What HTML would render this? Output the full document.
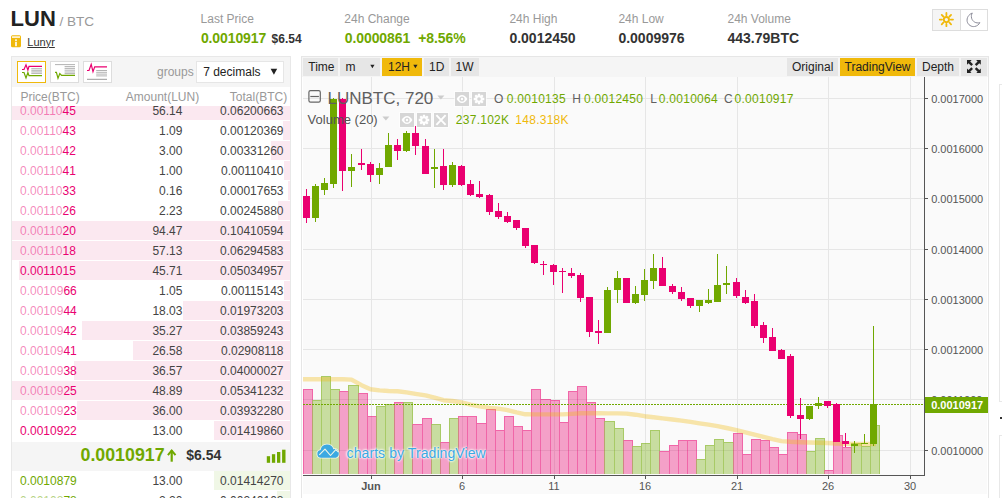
<!DOCTYPE html>
<html><head><meta charset="utf-8"><title>LUN/BTC</title>
<style>
html,body{margin:0;padding:0;background:#fff;}
body{width:1002px;height:498px;overflow:hidden;position:relative;font-family:"Liberation Sans",sans-serif;}
.t{position:absolute;white-space:nowrap;}
.abs{position:absolute;}
.btn{position:absolute;top:58px;height:18px;background:#e6e6e6;}
.ob{position:absolute;left:12px;width:278px;height:19px;}
.ob i{position:absolute;top:0;right:0;height:19px;font-style:normal;}
.ob span{position:absolute;top:4px;font-size:12px;line-height:12px;white-space:nowrap;}
</style></head><body>

<span class="t" style="left:10.60px;top:8.30px;font-size:22px;line-height:22px;color:#222;font-weight:bold;">LUN</span>
<span class="t" style="left:59.40px;top:15.40px;font-size:13.6px;line-height:13.6px;color:#999;font-weight:normal;">/ BTC</span>
<svg class="abs" style="left:10px;top:35px" width="12" height="13" viewBox="0 0 12 13"><rect x="1" y="0.3" width="10" height="12" rx="1.5" fill="#f0b90b"/><rect x="2" y="1.2" width="8" height="1.8" fill="#fdf1cf"/><rect x="5.2" y="4.3" width="1.6" height="1.7" fill="#fff"/><rect x="5.2" y="6.8" width="1.6" height="4.4" fill="#fff"/></svg>
<span class="t" style="left:27.30px;top:36.80px;font-size:11px;line-height:11px;color:#333;font-weight:normal;text-decoration:underline;">Lunyr</span>
<span class="t" style="left:200.60px;top:12.90px;font-size:12px;line-height:12px;color:#999;font-weight:normal;">Last Price</span>
<span class="t" style="left:344.30px;top:12.90px;font-size:12px;line-height:12px;color:#999;font-weight:normal;">24h Change</span>
<span class="t" style="left:509.40px;top:12.90px;font-size:12px;line-height:12px;color:#999;font-weight:normal;">24h High</span>
<span class="t" style="left:618.40px;top:12.90px;font-size:12px;line-height:12px;color:#999;font-weight:normal;">24h Low</span>
<span class="t" style="left:727.50px;top:12.90px;font-size:12px;line-height:12px;color:#999;font-weight:normal;">24h Volume</span>
<span class="t" style="left:200.90px;top:30.90px;font-size:14px;line-height:14px;color:#70a800;font-weight:bold;letter-spacing:-0.1px;">0.0010917</span>
<span class="t" style="left:271.60px;top:32.90px;font-size:12px;line-height:12px;color:#333;font-weight:bold;">$6.54</span>
<span class="t" style="left:344.80px;top:30.90px;font-size:14px;line-height:14px;color:#70a800;font-weight:bold;letter-spacing:-0.1px;">0.0000861</span>
<span class="t" style="left:418.30px;top:30.90px;font-size:14px;line-height:14px;color:#70a800;font-weight:bold;letter-spacing:-0.1px;">+8.56%</span>
<span class="t" style="left:509.40px;top:30.90px;font-size:14px;line-height:14px;color:#333;font-weight:bold;">0.0012450</span>
<span class="t" style="left:618.40px;top:30.90px;font-size:14px;line-height:14px;color:#333;font-weight:bold;">0.0009976</span>
<span class="t" style="left:727.50px;top:30.90px;font-size:14px;line-height:14px;color:#333;font-weight:bold;">443.79BTC</span>
<div class="abs" style="left:932px;top:9px;width:54px;height:20px;border:1px solid #ddd;background:#fff;"><div class="abs" style="left:0;top:0;width:27px;height:20px;background:#f5f5f5;border-right:1px solid #ddd;"></div></div>
<svg class="abs" style="left:932px;top:9px" width="56" height="22" viewBox="932 9 56 22"><g stroke="#f0b90b" fill="none"><circle cx="946.4" cy="19.6" r="2.6" stroke-width="1.9"/><path d="M950.80 19.60L953.00 19.60M949.51 22.71L951.07 24.27M946.40 24.00L946.40 26.20M943.29 22.71L941.73 24.27M942.00 19.60L939.80 19.60M943.29 16.49L941.73 14.93M946.40 15.20L946.40 13.00M949.51 16.49L951.07 14.93" stroke-width="1.8" stroke-linecap="round"/></g><path d="M972.3 13 C968.5 14.5 966.5 18 967.2 21.5 C968 25 971.5 27 974.5 26.5 C977 26.2 979 24.5 979.8 22.6 C976 23.8 972.5 21.5 971.6 18.2 C971.1 16.2 971.4 14.3 972.3 13Z" fill="#fff" stroke="#8c8c99" stroke-width="1"/></svg>
<div class="abs" style="left:11px;top:56px;width:278px;height:460px;border:1px solid #e8e8e8;background:#fff;"></div>
<div class="abs" style="left:12px;top:57px;width:278px;height:30px;background:#f5f5f5;"></div>
<div class="abs" style="left:17px;top:61px;width:27px;height:20px;background:#fff;border:1px solid #f0b90b;"></div>
<div class="abs" style="left:50px;top:61px;width:27px;height:20px;background:#fff;border:1px solid #ddd;"></div>
<div class="abs" style="left:83px;top:61px;width:27px;height:20px;background:#fff;border:1px solid #ddd;"></div>
<svg class="abs" style="left:17px;top:61px" width="29" height="22" viewBox="0 0 29 22"><path d="M5 8.5 L7 8.5 L9 3.8 L10.9 9 L12 5.3 L25 5.3" fill="none" stroke="#ea0070" stroke-width="1.2"/><path d="M5 11.5 L7 11.5 L9 17 L10.9 11.5 L12 14.6 L25 14.6" fill="none" stroke="#70a800" stroke-width="1.2"/><path d="M14.3 7.7H25M14.3 9.3H25M14.3 10.9H25M14.3 12.4H25" stroke="#aaa" stroke-width="0.9"/></svg>
<svg class="abs" style="left:50px;top:61px" width="29" height="22" viewBox="0 0 29 22"><path d="M5 3.6H25M14.6 5.6H25M14.6 7.4H25M14.6 9.2H25M14.6 11H25M14.6 12.6H25" stroke="#aaa" stroke-width="0.9"/><path d="M5 11.3 L6.4 11.3 L8 17.3 L9.8 12.5 L11.6 14.4 L25 14.4" fill="none" stroke="#70a800" stroke-width="1.2"/></svg>
<svg class="abs" style="left:83px;top:61px" width="29" height="22" viewBox="0 0 29 22"><path d="M4 9.5 L6 9.5 L8.2 3.4 L10 10.6 L11.7 5.9 L24 5.9" fill="none" stroke="#ea0070" stroke-width="1.2"/><path d="M13.2 9.5H24M13.2 11.3H24M13.2 13.1H24M13.2 14.9H24" stroke="#aaa" stroke-width="0.9"/><path d="M4 18.3H24" stroke="#999" stroke-width="1"/></svg>
<span class="t" style="left:157.00px;top:66.40px;font-size:12px;line-height:12px;color:#999;font-weight:normal;">groups</span>
<div class="abs" style="left:196px;top:61px;width:86px;height:20px;background:#fff;border:1px solid #e6e6e6;"></div>
<span class="t" style="left:203.20px;top:66.40px;font-size:12px;line-height:12px;color:#222;font-weight:normal;">7 decimals</span>
<svg class="abs" style="left:270px;top:68px" width="8" height="8" viewBox="0 0 8 8"><path d="M0.6 0.8h6.6L3.9 6.8z" fill="#222"/></svg>
<span class="t" style="left:20.40px;top:90.80px;font-size:12px;line-height:12px;color:#999;font-weight:normal;">Price(BTC)</span>
<span class="t" style="right:802.80px;top:90.80px;font-size:12px;line-height:12px;color:#999;font-weight:normal;">Amount(LUN)</span>
<span class="t" style="right:714.80px;top:90.80px;font-size:12px;line-height:12px;color:#999;font-weight:normal;">Total(BTC)</span>
<div class="abs" style="left:0;top:106px;width:300px;height:335px;overflow:hidden;">
<div class="ob" style="top:-5px"><i style="width:278.0px;background:#fbe8f0"></i><span style="left:8px;color:#ea0070"><b style="font-weight:normal;color:rgba(234,0,112,0.48)">0.00110</b>45</span><span style="right:107.6px;color:#444">56.14</span><span style="right:6.5px;color:#444">0.06200663</span></div>
<div class="ob" style="top:15px"><i style="width:7.4px;background:#fbe8f0"></i><span style="left:8px;color:#ea0070"><b style="font-weight:normal;color:rgba(234,0,112,0.48)">0.00110</b>43</span><span style="right:107.6px;color:#444">1.09</span><span style="right:6.5px;color:#444">0.00120369</span></div>
<div class="ob" style="top:35px"><i style="width:18.7px;background:#fbe8f0"></i><span style="left:8px;color:#ea0070"><b style="font-weight:normal;color:rgba(234,0,112,0.48)">0.00110</b>42</span><span style="right:107.6px;color:#444">3.00</span><span style="right:6.5px;color:#444">0.00331260</span></div>
<div class="ob" style="top:55px"><i style="width:5.7px;background:#fbe8f0"></i><span style="left:8px;color:#ea0070"><b style="font-weight:normal;color:rgba(234,0,112,0.48)">0.00110</b>41</span><span style="right:107.6px;color:#444">1.00</span><span style="right:6.5px;color:#444">0.00110410</span></div>
<div class="ob" style="top:75px"><i style="width:1.6px;background:#fbe8f0"></i><span style="left:8px;color:#ea0070"><b style="font-weight:normal;color:rgba(234,0,112,0.48)">0.00110</b>33</span><span style="right:107.6px;color:#444">0.16</span><span style="right:6.5px;color:#444">0.00017653</span></div>
<div class="ob" style="top:95px"><i style="width:12.5px;background:#fbe8f0"></i><span style="left:8px;color:#ea0070"><b style="font-weight:normal;color:rgba(234,0,112,0.48)">0.00110</b>26</span><span style="right:107.6px;color:#444">2.23</span><span style="right:6.5px;color:#444">0.00245880</span></div>
<div class="ob" style="top:115px"><i style="width:278.0px;background:#fbe8f0"></i><span style="left:8px;color:#ea0070"><b style="font-weight:normal;color:rgba(234,0,112,0.48)">0.00110</b>20</span><span style="right:107.6px;color:#444">94.47</span><span style="right:6.5px;color:#444">0.10410594</span></div>
<div class="ob" style="top:135px"><i style="width:278.0px;background:#fbe8f0"></i><span style="left:8px;color:#ea0070"><b style="font-weight:normal;color:rgba(234,0,112,0.48)">0.00110</b>18</span><span style="right:107.6px;color:#444">57.13</span><span style="right:6.5px;color:#444">0.06294583</span></div>
<div class="ob" style="top:155px"><i style="width:271.2px;background:#fbe8f0"></i><span style="left:8px;color:#ea0070">0.0011015</span><span style="right:107.6px;color:#444">45.71</span><span style="right:6.5px;color:#444">0.05034957</span></div>
<div class="ob" style="top:175px"><i style="width:6.0px;background:#fbe8f0"></i><span style="left:8px;color:#ea0070"><b style="font-weight:normal;color:rgba(234,0,112,0.48)">0.00109</b>66</span><span style="right:107.6px;color:#444">1.05</span><span style="right:6.5px;color:#444">0.00115143</span></div>
<div class="ob" style="top:195px"><i style="width:106.7px;background:#fbe8f0"></i><span style="left:8px;color:#ea0070"><b style="font-weight:normal;color:rgba(234,0,112,0.48)">0.00109</b>44</span><span style="right:107.6px;color:#444">18.03</span><span style="right:6.5px;color:#444">0.01973203</span></div>
<div class="ob" style="top:215px"><i style="width:208.1px;background:#fbe8f0"></i><span style="left:8px;color:#ea0070"><b style="font-weight:normal;color:rgba(234,0,112,0.48)">0.00109</b>42</span><span style="right:107.6px;color:#444">35.27</span><span style="right:6.5px;color:#444">0.03859243</span></div>
<div class="ob" style="top:235px"><i style="width:156.9px;background:#fbe8f0"></i><span style="left:8px;color:#ea0070"><b style="font-weight:normal;color:rgba(234,0,112,0.48)">0.00109</b>41</span><span style="right:107.6px;color:#444">26.58</span><span style="right:6.5px;color:#444">0.02908118</span></div>
<div class="ob" style="top:255px"><i style="width:215.6px;background:#fbe8f0"></i><span style="left:8px;color:#ea0070"><b style="font-weight:normal;color:rgba(234,0,112,0.48)">0.00109</b>38</span><span style="right:107.6px;color:#444">36.57</span><span style="right:6.5px;color:#444">0.04000027</span></div>
<div class="ob" style="top:275px"><i style="width:278.0px;background:#fbe8f0"></i><span style="left:8px;color:#ea0070"><b style="font-weight:normal;color:rgba(234,0,112,0.48)">0.00109</b>25</span><span style="right:107.6px;color:#444">48.89</span><span style="right:6.5px;color:#444">0.05341232</span></div>
<div class="ob" style="top:295px"><i style="width:213.2px;background:#fbe8f0"></i><span style="left:8px;color:#ea0070"><b style="font-weight:normal;color:rgba(234,0,112,0.48)">0.00109</b>23</span><span style="right:107.6px;color:#444">36.00</span><span style="right:6.5px;color:#444">0.03932280</span></div>
<div class="ob" style="top:315px"><i style="width:75.8px;background:#fbe8f0"></i><span style="left:8px;color:#ea0070">0.0010922</span><span style="right:107.6px;color:#444">13.00</span><span style="right:6.5px;color:#444">0.01419860</span></div>
</div>
<div class="abs" style="left:12px;top:441.6px;width:278px;height:29px;background:#f5f5f5;"></div>
<span class="t" style="left:80.50px;top:446.90px;font-size:17.8px;line-height:17.8px;color:#70a800;font-weight:bold;">0.0010917</span>
<svg class="abs" style="left:166px;top:448px" width="12" height="16" viewBox="166 448 12 16"><path d="M171.7 450.2V461.7" stroke="#70a800" stroke-width="2.2" fill="none"/><path d="M167.9 455.2L171.7 450.6L175.5 455.2" stroke="#70a800" stroke-width="2" fill="none" stroke-linejoin="miter"/></svg>
<span class="t" style="left:186.20px;top:448.30px;font-size:14px;line-height:14px;color:#333;font-weight:bold;">$6.54</span>
<svg class="abs" style="left:266px;top:449px" width="21" height="15" viewBox="266 449 21 15"><g fill="#70a800"><rect x="266.8" y="456.2" width="3.3" height="6.6"/><rect x="271.9" y="454.2" width="3.3" height="8.6"/><rect x="277" y="452" width="3.3" height="10.8"/><rect x="282.1" y="449.7" width="3.4" height="13.1"/></g></svg>
<div class="ob" style="top:470.6px"><i style="width:75.8px;background:#f0f7e6"></i><span style="left:8px;color:#70a800">0.0010879</span><span style="right:107.6px;color:#444">13.00</span><span style="right:6.5px;color:#444">0.01414270</span></div>
<div class="ob" style="top:490.6px"><i style="width:12.8px;background:#f0f7e6"></i><span style="left:8px;color:#70a800"><b style="font-weight:normal;color:rgba(112,168,0,0.5)">0.00108</b>78</span><span style="right:107.6px;color:#444">2.20</span><span style="right:6.5px;color:#444">0.00240108</span></div>
<div class="abs" style="left:301px;top:56px;width:686px;height:460px;border:1px solid #e6e6e6;background:#fff;"></div>
<div class="abs" style="left:303px;top:77px;width:684px;height:417px;background:#fafafa;"></div>
<div class="abs" style="left:302px;top:57px;width:686px;height:20px;background:#f5f5f5;"></div>
<div class="btn" style="left:303.0px;width:35.0px;background:#e6e6e6"></div>
<span class="t" style="left:308.30px;top:61.20px;font-size:12px;line-height:12px;color:#222;font-weight:normal;">Time</span>
<div class="btn" style="left:340.0px;width:40.0px;background:#e6e6e6"></div>
<span class="t" style="left:345.40px;top:61.20px;font-size:12px;line-height:12px;color:#222;font-weight:normal;">m</span>
<svg class="abs" style="left:370px;top:64px" width="5" height="5" viewBox="0 0 5 5"><path d="M0.3 0.8h4.2L2.4 4.2z" fill="#222"/></svg>
<div class="btn" style="left:382.0px;width:40.0px;background:#f0b90b"></div>
<span class="t" style="left:388.00px;top:61.20px;font-size:12px;line-height:12px;color:#222;font-weight:normal;">12H</span>
<svg class="abs" style="left:412.5px;top:64px" width="5" height="5" viewBox="0 0 5 5"><path d="M0.3 0.8h4.2L2.4 4.2z" fill="#222"/></svg>
<div class="btn" style="left:424.0px;width:25.0px;background:#e6e6e6"></div>
<span class="t" style="left:429.00px;top:61.20px;font-size:12px;line-height:12px;color:#222;font-weight:normal;">1D</span>
<div class="btn" style="left:451.0px;width:28.0px;background:#e6e6e6"></div>
<span class="t" style="left:455.50px;top:61.20px;font-size:12px;line-height:12px;color:#222;font-weight:normal;">1W</span>
<div class="btn" style="left:787.0px;width:51.0px;background:#e6e6e6"></div>
<span class="t" style="left:792.00px;top:61.20px;font-size:12px;line-height:12px;color:#222;font-weight:normal;">Original</span>
<div class="btn" style="left:840.0px;width:75.0px;background:#f0b90b"></div>
<span class="t" style="left:844.50px;top:61.20px;font-size:12px;line-height:12px;color:#222;font-weight:normal;">TradingView</span>
<div class="btn" style="left:917.0px;width:42.0px;background:#e6e6e6"></div>
<span class="t" style="left:922.00px;top:61.20px;font-size:12px;line-height:12px;color:#222;font-weight:normal;">Depth</span>
<div class="btn" style="left:961.0px;width:26.0px;background:#e6e6e6"></div>
<svg class="abs" style="left:967px;top:60.2px" width="13.8" height="13.2" viewBox="0 0 13.8 13.2"><g fill="#222"><path d="M0 0H4.7L3.2 1.5 6 4.3 4.3 6 1.5 3.2 0 4.7Z"/><path d="M0 0H4.7L3.2 1.5 6 4.3 4.3 6 1.5 3.2 0 4.7Z" transform="translate(13.8,0) scale(-1,1)"/><path d="M0 0H4.7L3.2 1.5 6 4.3 4.3 6 1.5 3.2 0 4.7Z" transform="translate(0,13.2) scale(1,-1)"/><path d="M0 0H4.7L3.2 1.5 6 4.3 4.3 6 1.5 3.2 0 4.7Z" transform="translate(13.8,13.2) scale(-1,-1)"/></g></svg>
<svg class="abs" style="left:302px;top:77px" width="686" height="421" viewBox="302 77 686 421">
<g stroke="#e6e6e6" stroke-width="1" shape-rendering="crispEdges">
<path d="M303 98.5H924"/>
<path d="M303 148.5H924"/>
<path d="M303 198.5H924"/>
<path d="M303 249.5H924"/>
<path d="M303 299.5H924"/>
<path d="M303 349.5H924"/>
<path d="M303 399.5H924"/>
<path d="M303 450.5H924"/>
<path d="M371.5 77V475"/>
<path d="M462.5 77V475"/>
<path d="M554.5 77V475"/>
<path d="M645.5 77V475"/>
<path d="M737.5 77V475"/>
<path d="M828.5 77V475"/>
<path d="M910.5 77V475"/>
</g>
<g shape-rendering="crispEdges">
<rect x="303" y="389" width="9" height="85" fill="rgba(234,0,112,0.36)"/>
<rect x="304" y="389" width="8" height="1" fill="rgba(234,0,112,0.36)"/>
<rect x="312" y="400" width="9" height="74" fill="rgba(112,168,0,0.36)"/>
<rect x="313" y="400" width="8" height="1" fill="rgba(112,168,0,0.36)"/>
<rect x="321" y="376" width="9" height="98" fill="rgba(112,168,0,0.36)"/>
<rect x="322" y="376" width="8" height="1" fill="rgba(112,168,0,0.36)"/>
<rect x="330" y="389" width="9" height="85" fill="rgba(112,168,0,0.36)"/>
<rect x="331" y="389" width="8" height="1" fill="rgba(112,168,0,0.36)"/>
<rect x="339" y="391" width="9" height="83" fill="rgba(234,0,112,0.36)"/>
<rect x="340" y="391" width="8" height="1" fill="rgba(234,0,112,0.36)"/>
<rect x="348" y="385" width="10" height="89" fill="rgba(112,168,0,0.36)"/>
<rect x="349" y="385" width="9" height="1" fill="rgba(112,168,0,0.36)"/>
<rect x="358" y="393" width="9" height="81" fill="rgba(234,0,112,0.36)"/>
<rect x="359" y="393" width="8" height="1" fill="rgba(234,0,112,0.36)"/>
<rect x="367" y="416" width="9" height="58" fill="rgba(234,0,112,0.36)"/>
<rect x="368" y="416" width="8" height="1" fill="rgba(234,0,112,0.36)"/>
<rect x="376" y="406" width="9" height="68" fill="rgba(112,168,0,0.36)"/>
<rect x="377" y="406" width="8" height="1" fill="rgba(112,168,0,0.36)"/>
<rect x="385" y="404" width="9" height="70" fill="rgba(112,168,0,0.36)"/>
<rect x="386" y="404" width="8" height="1" fill="rgba(112,168,0,0.36)"/>
<rect x="394" y="402" width="9" height="72" fill="rgba(234,0,112,0.36)"/>
<rect x="395" y="402" width="8" height="1" fill="rgba(234,0,112,0.36)"/>
<rect x="403" y="402" width="9" height="72" fill="rgba(112,168,0,0.36)"/>
<rect x="404" y="402" width="8" height="1" fill="rgba(112,168,0,0.36)"/>
<rect x="412" y="424" width="10" height="50" fill="rgba(234,0,112,0.36)"/>
<rect x="413" y="424" width="9" height="1" fill="rgba(234,0,112,0.36)"/>
<rect x="422" y="418" width="9" height="56" fill="rgba(234,0,112,0.36)"/>
<rect x="423" y="418" width="8" height="1" fill="rgba(234,0,112,0.36)"/>
<rect x="431" y="424" width="9" height="50" fill="rgba(112,168,0,0.36)"/>
<rect x="432" y="424" width="8" height="1" fill="rgba(112,168,0,0.36)"/>
<rect x="440" y="442" width="9" height="32" fill="rgba(234,0,112,0.36)"/>
<rect x="441" y="442" width="8" height="1" fill="rgba(234,0,112,0.36)"/>
<rect x="449" y="418" width="9" height="56" fill="rgba(112,168,0,0.36)"/>
<rect x="450" y="418" width="8" height="1" fill="rgba(112,168,0,0.36)"/>
<rect x="458" y="416" width="9" height="58" fill="rgba(234,0,112,0.36)"/>
<rect x="459" y="416" width="8" height="1" fill="rgba(234,0,112,0.36)"/>
<rect x="467" y="416" width="9" height="58" fill="rgba(234,0,112,0.36)"/>
<rect x="468" y="416" width="8" height="1" fill="rgba(234,0,112,0.36)"/>
<rect x="476" y="423" width="10" height="51" fill="rgba(234,0,112,0.36)"/>
<rect x="477" y="423" width="9" height="1" fill="rgba(234,0,112,0.36)"/>
<rect x="486" y="409" width="9" height="65" fill="rgba(234,0,112,0.36)"/>
<rect x="487" y="409" width="8" height="1" fill="rgba(234,0,112,0.36)"/>
<rect x="495" y="430" width="9" height="44" fill="rgba(234,0,112,0.36)"/>
<rect x="496" y="430" width="8" height="1" fill="rgba(234,0,112,0.36)"/>
<rect x="504" y="416" width="9" height="58" fill="rgba(234,0,112,0.36)"/>
<rect x="505" y="416" width="8" height="1" fill="rgba(234,0,112,0.36)"/>
<rect x="513" y="426" width="9" height="48" fill="rgba(234,0,112,0.36)"/>
<rect x="514" y="426" width="8" height="1" fill="rgba(234,0,112,0.36)"/>
<rect x="522" y="430" width="9" height="44" fill="rgba(234,0,112,0.36)"/>
<rect x="523" y="430" width="8" height="1" fill="rgba(234,0,112,0.36)"/>
<rect x="531" y="389" width="9" height="85" fill="rgba(234,0,112,0.36)"/>
<rect x="532" y="389" width="8" height="1" fill="rgba(234,0,112,0.36)"/>
<rect x="540" y="399" width="10" height="75" fill="rgba(234,0,112,0.36)"/>
<rect x="541" y="399" width="9" height="1" fill="rgba(234,0,112,0.36)"/>
<rect x="550" y="400" width="9" height="74" fill="rgba(234,0,112,0.36)"/>
<rect x="551" y="400" width="8" height="1" fill="rgba(234,0,112,0.36)"/>
<rect x="559" y="422" width="9" height="52" fill="rgba(234,0,112,0.36)"/>
<rect x="560" y="422" width="8" height="1" fill="rgba(234,0,112,0.36)"/>
<rect x="568" y="391" width="9" height="83" fill="rgba(234,0,112,0.36)"/>
<rect x="569" y="391" width="8" height="1" fill="rgba(234,0,112,0.36)"/>
<rect x="577" y="386" width="9" height="88" fill="rgba(234,0,112,0.36)"/>
<rect x="578" y="386" width="8" height="1" fill="rgba(234,0,112,0.36)"/>
<rect x="586" y="402" width="9" height="72" fill="rgba(234,0,112,0.36)"/>
<rect x="587" y="402" width="8" height="1" fill="rgba(234,0,112,0.36)"/>
<rect x="595" y="418" width="9" height="56" fill="rgba(234,0,112,0.36)"/>
<rect x="596" y="418" width="8" height="1" fill="rgba(234,0,112,0.36)"/>
<rect x="604" y="421" width="10" height="53" fill="rgba(112,168,0,0.36)"/>
<rect x="605" y="421" width="9" height="1" fill="rgba(112,168,0,0.36)"/>
<rect x="614" y="428" width="9" height="46" fill="rgba(112,168,0,0.36)"/>
<rect x="615" y="428" width="8" height="1" fill="rgba(112,168,0,0.36)"/>
<rect x="623" y="440" width="9" height="34" fill="rgba(234,0,112,0.36)"/>
<rect x="624" y="440" width="8" height="1" fill="rgba(234,0,112,0.36)"/>
<rect x="632" y="446" width="9" height="28" fill="rgba(112,168,0,0.36)"/>
<rect x="633" y="446" width="8" height="1" fill="rgba(112,168,0,0.36)"/>
<rect x="641" y="443" width="9" height="31" fill="rgba(112,168,0,0.36)"/>
<rect x="642" y="443" width="8" height="1" fill="rgba(112,168,0,0.36)"/>
<rect x="650" y="430" width="9" height="44" fill="rgba(112,168,0,0.36)"/>
<rect x="651" y="430" width="8" height="1" fill="rgba(112,168,0,0.36)"/>
<rect x="659" y="451" width="10" height="23" fill="rgba(234,0,112,0.36)"/>
<rect x="660" y="451" width="9" height="1" fill="rgba(234,0,112,0.36)"/>
<rect x="669" y="445" width="9" height="29" fill="rgba(234,0,112,0.36)"/>
<rect x="670" y="445" width="8" height="1" fill="rgba(234,0,112,0.36)"/>
<rect x="678" y="440" width="9" height="34" fill="rgba(234,0,112,0.36)"/>
<rect x="679" y="440" width="8" height="1" fill="rgba(234,0,112,0.36)"/>
<rect x="687" y="440" width="9" height="34" fill="rgba(234,0,112,0.36)"/>
<rect x="688" y="440" width="8" height="1" fill="rgba(234,0,112,0.36)"/>
<rect x="696" y="459" width="9" height="15" fill="rgba(112,168,0,0.36)"/>
<rect x="697" y="459" width="8" height="1" fill="rgba(112,168,0,0.36)"/>
<rect x="705" y="445" width="9" height="29" fill="rgba(112,168,0,0.36)"/>
<rect x="706" y="445" width="8" height="1" fill="rgba(112,168,0,0.36)"/>
<rect x="714" y="439" width="9" height="35" fill="rgba(112,168,0,0.36)"/>
<rect x="715" y="439" width="8" height="1" fill="rgba(112,168,0,0.36)"/>
<rect x="723" y="442" width="10" height="32" fill="rgba(112,168,0,0.36)"/>
<rect x="724" y="442" width="9" height="1" fill="rgba(112,168,0,0.36)"/>
<rect x="733" y="433" width="9" height="41" fill="rgba(234,0,112,0.36)"/>
<rect x="734" y="433" width="8" height="1" fill="rgba(234,0,112,0.36)"/>
<rect x="742" y="454" width="9" height="20" fill="rgba(234,0,112,0.36)"/>
<rect x="743" y="454" width="8" height="1" fill="rgba(234,0,112,0.36)"/>
<rect x="751" y="439" width="9" height="35" fill="rgba(234,0,112,0.36)"/>
<rect x="752" y="439" width="8" height="1" fill="rgba(234,0,112,0.36)"/>
<rect x="760" y="440" width="9" height="34" fill="rgba(234,0,112,0.36)"/>
<rect x="761" y="440" width="8" height="1" fill="rgba(234,0,112,0.36)"/>
<rect x="769" y="447" width="9" height="27" fill="rgba(234,0,112,0.36)"/>
<rect x="770" y="447" width="8" height="1" fill="rgba(234,0,112,0.36)"/>
<rect x="778" y="454" width="9" height="20" fill="rgba(234,0,112,0.36)"/>
<rect x="779" y="454" width="8" height="1" fill="rgba(234,0,112,0.36)"/>
<rect x="787" y="432" width="10" height="42" fill="rgba(234,0,112,0.36)"/>
<rect x="788" y="432" width="9" height="1" fill="rgba(234,0,112,0.36)"/>
<rect x="797" y="434" width="9" height="40" fill="rgba(234,0,112,0.36)"/>
<rect x="798" y="434" width="8" height="1" fill="rgba(234,0,112,0.36)"/>
<rect x="806" y="451" width="9" height="23" fill="rgba(112,168,0,0.36)"/>
<rect x="807" y="451" width="8" height="1" fill="rgba(112,168,0,0.36)"/>
<rect x="815" y="438" width="9" height="36" fill="rgba(112,168,0,0.36)"/>
<rect x="816" y="438" width="8" height="1" fill="rgba(112,168,0,0.36)"/>
<rect x="824" y="470" width="9" height="4" fill="rgba(234,0,112,0.36)"/>
<rect x="825" y="470" width="8" height="1" fill="rgba(234,0,112,0.36)"/>
<rect x="833" y="435" width="9" height="39" fill="rgba(234,0,112,0.36)"/>
<rect x="834" y="435" width="8" height="1" fill="rgba(234,0,112,0.36)"/>
<rect x="842" y="447" width="9" height="27" fill="rgba(234,0,112,0.36)"/>
<rect x="843" y="447" width="8" height="1" fill="rgba(234,0,112,0.36)"/>
<rect x="851" y="443" width="10" height="31" fill="rgba(112,168,0,0.36)"/>
<rect x="852" y="443" width="9" height="1" fill="rgba(112,168,0,0.36)"/>
<rect x="861" y="446" width="9" height="28" fill="rgba(112,168,0,0.36)"/>
<rect x="862" y="446" width="8" height="1" fill="rgba(112,168,0,0.36)"/>
<rect x="870" y="425" width="10" height="49" fill="rgba(112,168,0,0.36)"/>
<rect x="871" y="425" width="8" height="1" fill="rgba(112,168,0,0.36)"/>
<rect x="303" y="389" width="1" height="85" fill="rgba(234,0,112,0.36)"/>
<rect x="312" y="389" width="1" height="11" fill="rgba(234,0,112,0.36)"/>
<rect x="312" y="400" width="1" height="74" fill="rgba(234,0,112,0.25)"/>
<rect x="312" y="400" width="1" height="74" fill="rgba(112,168,0,0.25)"/>
<rect x="312" y="389" width="1" height="11" fill="rgba(234,0,112,0.36)"/>
<rect x="321" y="376" width="1" height="98" fill="rgba(112,168,0,0.36)"/>
<rect x="330" y="376" width="1" height="98" fill="rgba(112,168,0,0.36)"/>
<rect x="330" y="376" width="1" height="13" fill="rgba(112,168,0,0.36)"/>
<rect x="339" y="389" width="1" height="2" fill="rgba(112,168,0,0.36)"/>
<rect x="339" y="391" width="1" height="83" fill="rgba(234,0,112,0.25)"/>
<rect x="339" y="391" width="1" height="83" fill="rgba(112,168,0,0.25)"/>
<rect x="339" y="389" width="1" height="2" fill="rgba(112,168,0,0.36)"/>
<rect x="348" y="385" width="1" height="6" fill="rgba(112,168,0,0.36)"/>
<rect x="348" y="391" width="1" height="83" fill="rgba(234,0,112,0.25)"/>
<rect x="348" y="391" width="1" height="83" fill="rgba(112,168,0,0.25)"/>
<rect x="358" y="385" width="1" height="8" fill="rgba(112,168,0,0.36)"/>
<rect x="358" y="393" width="1" height="81" fill="rgba(234,0,112,0.25)"/>
<rect x="358" y="393" width="1" height="81" fill="rgba(112,168,0,0.25)"/>
<rect x="358" y="385" width="1" height="8" fill="rgba(112,168,0,0.36)"/>
<rect x="367" y="393" width="1" height="81" fill="rgba(234,0,112,0.36)"/>
<rect x="367" y="393" width="1" height="23" fill="rgba(234,0,112,0.36)"/>
<rect x="376" y="406" width="1" height="10" fill="rgba(112,168,0,0.36)"/>
<rect x="376" y="416" width="1" height="58" fill="rgba(234,0,112,0.25)"/>
<rect x="376" y="416" width="1" height="58" fill="rgba(112,168,0,0.25)"/>
<rect x="385" y="404" width="1" height="70" fill="rgba(112,168,0,0.36)"/>
<rect x="394" y="402" width="1" height="2" fill="rgba(234,0,112,0.36)"/>
<rect x="394" y="404" width="1" height="70" fill="rgba(234,0,112,0.25)"/>
<rect x="394" y="404" width="1" height="70" fill="rgba(112,168,0,0.25)"/>
<rect x="403" y="402" width="1" height="0" fill="rgba(112,168,0,0.36)"/>
<rect x="403" y="402" width="1" height="72" fill="rgba(234,0,112,0.25)"/>
<rect x="403" y="402" width="1" height="72" fill="rgba(112,168,0,0.25)"/>
<rect x="412" y="402" width="1" height="22" fill="rgba(112,168,0,0.36)"/>
<rect x="412" y="424" width="1" height="50" fill="rgba(234,0,112,0.25)"/>
<rect x="412" y="424" width="1" height="50" fill="rgba(112,168,0,0.25)"/>
<rect x="412" y="402" width="1" height="22" fill="rgba(112,168,0,0.36)"/>
<rect x="422" y="418" width="1" height="56" fill="rgba(234,0,112,0.36)"/>
<rect x="431" y="418" width="1" height="6" fill="rgba(234,0,112,0.36)"/>
<rect x="431" y="424" width="1" height="50" fill="rgba(234,0,112,0.25)"/>
<rect x="431" y="424" width="1" height="50" fill="rgba(112,168,0,0.25)"/>
<rect x="431" y="418" width="1" height="6" fill="rgba(234,0,112,0.36)"/>
<rect x="440" y="424" width="1" height="18" fill="rgba(112,168,0,0.36)"/>
<rect x="440" y="442" width="1" height="32" fill="rgba(234,0,112,0.25)"/>
<rect x="440" y="442" width="1" height="32" fill="rgba(112,168,0,0.25)"/>
<rect x="440" y="424" width="1" height="18" fill="rgba(112,168,0,0.36)"/>
<rect x="449" y="418" width="1" height="24" fill="rgba(112,168,0,0.36)"/>
<rect x="449" y="442" width="1" height="32" fill="rgba(234,0,112,0.25)"/>
<rect x="449" y="442" width="1" height="32" fill="rgba(112,168,0,0.25)"/>
<rect x="458" y="416" width="1" height="2" fill="rgba(234,0,112,0.36)"/>
<rect x="458" y="418" width="1" height="56" fill="rgba(234,0,112,0.25)"/>
<rect x="458" y="418" width="1" height="56" fill="rgba(112,168,0,0.25)"/>
<rect x="467" y="416" width="1" height="58" fill="rgba(234,0,112,0.36)"/>
<rect x="476" y="416" width="1" height="58" fill="rgba(234,0,112,0.36)"/>
<rect x="476" y="416" width="1" height="7" fill="rgba(234,0,112,0.36)"/>
<rect x="486" y="409" width="1" height="65" fill="rgba(234,0,112,0.36)"/>
<rect x="495" y="409" width="1" height="65" fill="rgba(234,0,112,0.36)"/>
<rect x="495" y="409" width="1" height="21" fill="rgba(234,0,112,0.36)"/>
<rect x="504" y="416" width="1" height="58" fill="rgba(234,0,112,0.36)"/>
<rect x="513" y="416" width="1" height="58" fill="rgba(234,0,112,0.36)"/>
<rect x="513" y="416" width="1" height="10" fill="rgba(234,0,112,0.36)"/>
<rect x="522" y="426" width="1" height="48" fill="rgba(234,0,112,0.36)"/>
<rect x="522" y="426" width="1" height="4" fill="rgba(234,0,112,0.36)"/>
<rect x="531" y="389" width="1" height="85" fill="rgba(234,0,112,0.36)"/>
<rect x="540" y="389" width="1" height="85" fill="rgba(234,0,112,0.36)"/>
<rect x="540" y="389" width="1" height="10" fill="rgba(234,0,112,0.36)"/>
<rect x="550" y="399" width="1" height="75" fill="rgba(234,0,112,0.36)"/>
<rect x="550" y="399" width="1" height="1" fill="rgba(234,0,112,0.36)"/>
<rect x="559" y="400" width="1" height="74" fill="rgba(234,0,112,0.36)"/>
<rect x="559" y="400" width="1" height="22" fill="rgba(234,0,112,0.36)"/>
<rect x="568" y="391" width="1" height="83" fill="rgba(234,0,112,0.36)"/>
<rect x="577" y="386" width="1" height="88" fill="rgba(234,0,112,0.36)"/>
<rect x="586" y="386" width="1" height="88" fill="rgba(234,0,112,0.36)"/>
<rect x="586" y="386" width="1" height="16" fill="rgba(234,0,112,0.36)"/>
<rect x="595" y="402" width="1" height="72" fill="rgba(234,0,112,0.36)"/>
<rect x="595" y="402" width="1" height="16" fill="rgba(234,0,112,0.36)"/>
<rect x="604" y="418" width="1" height="3" fill="rgba(234,0,112,0.36)"/>
<rect x="604" y="421" width="1" height="53" fill="rgba(234,0,112,0.25)"/>
<rect x="604" y="421" width="1" height="53" fill="rgba(112,168,0,0.25)"/>
<rect x="604" y="418" width="1" height="3" fill="rgba(234,0,112,0.36)"/>
<rect x="614" y="421" width="1" height="53" fill="rgba(112,168,0,0.36)"/>
<rect x="614" y="421" width="1" height="7" fill="rgba(112,168,0,0.36)"/>
<rect x="623" y="428" width="1" height="12" fill="rgba(112,168,0,0.36)"/>
<rect x="623" y="440" width="1" height="34" fill="rgba(234,0,112,0.25)"/>
<rect x="623" y="440" width="1" height="34" fill="rgba(112,168,0,0.25)"/>
<rect x="623" y="428" width="1" height="12" fill="rgba(112,168,0,0.36)"/>
<rect x="632" y="440" width="1" height="6" fill="rgba(234,0,112,0.36)"/>
<rect x="632" y="446" width="1" height="28" fill="rgba(234,0,112,0.25)"/>
<rect x="632" y="446" width="1" height="28" fill="rgba(112,168,0,0.25)"/>
<rect x="632" y="440" width="1" height="6" fill="rgba(234,0,112,0.36)"/>
<rect x="641" y="443" width="1" height="31" fill="rgba(112,168,0,0.36)"/>
<rect x="650" y="430" width="1" height="44" fill="rgba(112,168,0,0.36)"/>
<rect x="659" y="430" width="1" height="21" fill="rgba(112,168,0,0.36)"/>
<rect x="659" y="451" width="1" height="23" fill="rgba(234,0,112,0.25)"/>
<rect x="659" y="451" width="1" height="23" fill="rgba(112,168,0,0.25)"/>
<rect x="659" y="430" width="1" height="21" fill="rgba(112,168,0,0.36)"/>
<rect x="669" y="445" width="1" height="29" fill="rgba(234,0,112,0.36)"/>
<rect x="678" y="440" width="1" height="34" fill="rgba(234,0,112,0.36)"/>
<rect x="687" y="440" width="1" height="34" fill="rgba(234,0,112,0.36)"/>
<rect x="696" y="440" width="1" height="19" fill="rgba(234,0,112,0.36)"/>
<rect x="696" y="459" width="1" height="15" fill="rgba(234,0,112,0.25)"/>
<rect x="696" y="459" width="1" height="15" fill="rgba(112,168,0,0.25)"/>
<rect x="696" y="440" width="1" height="19" fill="rgba(234,0,112,0.36)"/>
<rect x="705" y="445" width="1" height="29" fill="rgba(112,168,0,0.36)"/>
<rect x="714" y="439" width="1" height="35" fill="rgba(112,168,0,0.36)"/>
<rect x="723" y="439" width="1" height="35" fill="rgba(112,168,0,0.36)"/>
<rect x="723" y="439" width="1" height="3" fill="rgba(112,168,0,0.36)"/>
<rect x="733" y="433" width="1" height="9" fill="rgba(234,0,112,0.36)"/>
<rect x="733" y="442" width="1" height="32" fill="rgba(234,0,112,0.25)"/>
<rect x="733" y="442" width="1" height="32" fill="rgba(112,168,0,0.25)"/>
<rect x="742" y="433" width="1" height="41" fill="rgba(234,0,112,0.36)"/>
<rect x="742" y="433" width="1" height="21" fill="rgba(234,0,112,0.36)"/>
<rect x="751" y="439" width="1" height="35" fill="rgba(234,0,112,0.36)"/>
<rect x="760" y="439" width="1" height="35" fill="rgba(234,0,112,0.36)"/>
<rect x="760" y="439" width="1" height="1" fill="rgba(234,0,112,0.36)"/>
<rect x="769" y="440" width="1" height="34" fill="rgba(234,0,112,0.36)"/>
<rect x="769" y="440" width="1" height="7" fill="rgba(234,0,112,0.36)"/>
<rect x="778" y="447" width="1" height="27" fill="rgba(234,0,112,0.36)"/>
<rect x="778" y="447" width="1" height="7" fill="rgba(234,0,112,0.36)"/>
<rect x="787" y="432" width="1" height="42" fill="rgba(234,0,112,0.36)"/>
<rect x="797" y="432" width="1" height="42" fill="rgba(234,0,112,0.36)"/>
<rect x="797" y="432" width="1" height="2" fill="rgba(234,0,112,0.36)"/>
<rect x="806" y="434" width="1" height="17" fill="rgba(234,0,112,0.36)"/>
<rect x="806" y="451" width="1" height="23" fill="rgba(234,0,112,0.25)"/>
<rect x="806" y="451" width="1" height="23" fill="rgba(112,168,0,0.25)"/>
<rect x="806" y="434" width="1" height="17" fill="rgba(234,0,112,0.36)"/>
<rect x="815" y="438" width="1" height="36" fill="rgba(112,168,0,0.36)"/>
<rect x="824" y="438" width="1" height="32" fill="rgba(112,168,0,0.36)"/>
<rect x="824" y="470" width="1" height="4" fill="rgba(234,0,112,0.25)"/>
<rect x="824" y="470" width="1" height="4" fill="rgba(112,168,0,0.25)"/>
<rect x="824" y="438" width="1" height="32" fill="rgba(112,168,0,0.36)"/>
<rect x="833" y="435" width="1" height="39" fill="rgba(234,0,112,0.36)"/>
<rect x="842" y="435" width="1" height="39" fill="rgba(234,0,112,0.36)"/>
<rect x="842" y="435" width="1" height="12" fill="rgba(234,0,112,0.36)"/>
<rect x="851" y="443" width="1" height="4" fill="rgba(112,168,0,0.36)"/>
<rect x="851" y="447" width="1" height="27" fill="rgba(234,0,112,0.25)"/>
<rect x="851" y="447" width="1" height="27" fill="rgba(112,168,0,0.25)"/>
<rect x="861" y="443" width="1" height="31" fill="rgba(112,168,0,0.36)"/>
<rect x="861" y="443" width="1" height="3" fill="rgba(112,168,0,0.36)"/>
<rect x="870" y="425" width="1" height="49" fill="rgba(112,168,0,0.36)"/>
<rect x="879" y="425" width="1" height="49" fill="rgba(112,168,0,0.36)"/>
</g>
<polyline fill="none" stroke="rgba(240,185,11,0.34)" stroke-width="4.4" stroke-linejoin="round" points="303.0,379.3 306.5,379.3 315.5,379.3 324.5,379.3 333.5,379.3 342.5,379.3 351.5,379.6 361.5,385.2 370.5,389.2 379.5,390.4 388.5,391.0 397.5,391.2 406.5,392.4 415.5,393.9 425.5,395.4 434.5,397.6 443.5,400.2 452.5,401.0 461.5,402.4 470.5,404.6 479.5,406.4 489.5,407.9 498.5,408.7 507.5,410.2 516.5,412.4 525.5,414.3 534.5,414.4 543.5,414.4 553.5,414.4 562.5,414.4 571.5,413.9 580.5,413.3 589.5,413.2 598.5,413.3 607.5,413.4 617.5,413.4 626.5,413.6 635.5,414.7 644.5,416.2 653.5,417.3 662.5,418.4 672.5,419.5 681.5,420.6 690.5,421.9 699.5,423.3 708.5,424.7 717.5,426.2 726.5,428.0 736.5,430.2 745.5,432.3 754.5,434.6 763.5,436.8 772.5,439.1 781.5,441.1 790.5,441.8 800.5,442.2 809.5,442.5 818.5,442.7 827.5,443.0 836.5,443.5 845.5,443.8 854.5,444.0 864.5,444.0 873.5,444.0 876.0,444.0"/>
<path d="M303 404.5H924" stroke="#70a800" stroke-width="1" stroke-dasharray="2,1" shape-rendering="crispEdges"/>
<g shape-rendering="crispEdges">
<rect x="306" y="189" width="1" height="34" fill="#ea0070"/>
<rect x="303" y="196" width="7" height="22" fill="#ea0070"/>
<rect x="315" y="184" width="1" height="38" fill="#70a800"/>
<rect x="312" y="186" width="7" height="32" fill="#70a800"/>
<rect x="324" y="178" width="1" height="17" fill="#70a800"/>
<rect x="321" y="183" width="7" height="7" fill="#70a800"/>
<rect x="333" y="98" width="1" height="90" fill="#70a800"/>
<rect x="330" y="99" width="7" height="85" fill="#70a800"/>
<rect x="342" y="98" width="1" height="93" fill="#ea0070"/>
<rect x="339" y="99" width="7" height="72" fill="#ea0070"/>
<rect x="351" y="154" width="1" height="33" fill="#70a800"/>
<rect x="348" y="167" width="7" height="4" fill="#70a800"/>
<rect x="361" y="149" width="1" height="21" fill="#ea0070"/>
<rect x="358" y="163" width="7" height="2" fill="#ea0070"/>
<rect x="370" y="162" width="1" height="20" fill="#ea0070"/>
<rect x="367" y="164" width="7" height="11" fill="#ea0070"/>
<rect x="379" y="163" width="1" height="21" fill="#70a800"/>
<rect x="376" y="168" width="7" height="7" fill="#70a800"/>
<rect x="388" y="133" width="1" height="34" fill="#70a800"/>
<rect x="385" y="145" width="7" height="22" fill="#70a800"/>
<rect x="397" y="139" width="1" height="21" fill="#ea0070"/>
<rect x="394" y="145" width="7" height="6" fill="#ea0070"/>
<rect x="406" y="131" width="1" height="21" fill="#70a800"/>
<rect x="403" y="133" width="7" height="18" fill="#70a800"/>
<rect x="415" y="126" width="1" height="29" fill="#ea0070"/>
<rect x="412" y="133" width="7" height="13" fill="#ea0070"/>
<rect x="425" y="139" width="1" height="35" fill="#ea0070"/>
<rect x="422" y="146" width="7" height="28" fill="#ea0070"/>
<rect x="434" y="149" width="1" height="39" fill="#70a800"/>
<rect x="431" y="167" width="7" height="2" fill="#70a800"/>
<rect x="443" y="149" width="1" height="41" fill="#ea0070"/>
<rect x="440" y="166" width="7" height="19" fill="#ea0070"/>
<rect x="452" y="162" width="1" height="25" fill="#70a800"/>
<rect x="449" y="165" width="7" height="20" fill="#70a800"/>
<rect x="461" y="165" width="1" height="21" fill="#ea0070"/>
<rect x="458" y="166" width="7" height="19" fill="#ea0070"/>
<rect x="470" y="180" width="1" height="16" fill="#ea0070"/>
<rect x="467" y="184" width="7" height="11" fill="#ea0070"/>
<rect x="479" y="181" width="1" height="17" fill="#ea0070"/>
<rect x="476" y="194" width="7" height="3" fill="#ea0070"/>
<rect x="489" y="194" width="1" height="21" fill="#ea0070"/>
<rect x="486" y="195" width="7" height="17" fill="#ea0070"/>
<rect x="498" y="203" width="1" height="16" fill="#ea0070"/>
<rect x="495" y="211" width="7" height="6" fill="#ea0070"/>
<rect x="507" y="212" width="1" height="11" fill="#ea0070"/>
<rect x="504" y="216" width="7" height="6" fill="#ea0070"/>
<rect x="516" y="220" width="1" height="10" fill="#ea0070"/>
<rect x="513" y="220" width="7" height="8" fill="#ea0070"/>
<rect x="525" y="228" width="1" height="20" fill="#ea0070"/>
<rect x="522" y="228" width="7" height="18" fill="#ea0070"/>
<rect x="534" y="245" width="1" height="19" fill="#ea0070"/>
<rect x="531" y="245" width="7" height="18" fill="#ea0070"/>
<rect x="543" y="261" width="1" height="14" fill="#ea0070"/>
<rect x="540" y="264" width="7" height="1" fill="#ea0070"/>
<rect x="553" y="264" width="1" height="21" fill="#ea0070"/>
<rect x="550" y="265" width="7" height="7" fill="#ea0070"/>
<rect x="562" y="268" width="1" height="25" fill="#ea0070"/>
<rect x="559" y="271" width="7" height="1" fill="#ea0070"/>
<rect x="571" y="268" width="1" height="10" fill="#ea0070"/>
<rect x="568" y="273" width="7" height="3" fill="#ea0070"/>
<rect x="580" y="273" width="1" height="29" fill="#ea0070"/>
<rect x="577" y="275" width="7" height="23" fill="#ea0070"/>
<rect x="589" y="297" width="1" height="40" fill="#ea0070"/>
<rect x="586" y="297" width="7" height="35" fill="#ea0070"/>
<rect x="598" y="320" width="1" height="24" fill="#ea0070"/>
<rect x="595" y="331" width="7" height="2" fill="#ea0070"/>
<rect x="607" y="287" width="1" height="46" fill="#70a800"/>
<rect x="604" y="290" width="7" height="43" fill="#70a800"/>
<rect x="617" y="271" width="1" height="32" fill="#70a800"/>
<rect x="614" y="278" width="7" height="12" fill="#70a800"/>
<rect x="626" y="278" width="1" height="25" fill="#ea0070"/>
<rect x="623" y="278" width="7" height="25" fill="#ea0070"/>
<rect x="635" y="286" width="1" height="18" fill="#70a800"/>
<rect x="632" y="294" width="7" height="9" fill="#70a800"/>
<rect x="644" y="269" width="1" height="32" fill="#70a800"/>
<rect x="641" y="280" width="7" height="15" fill="#70a800"/>
<rect x="653" y="254" width="1" height="35" fill="#70a800"/>
<rect x="650" y="268" width="7" height="13" fill="#70a800"/>
<rect x="662" y="257" width="1" height="29" fill="#ea0070"/>
<rect x="659" y="268" width="7" height="18" fill="#ea0070"/>
<rect x="672" y="284" width="1" height="10" fill="#ea0070"/>
<rect x="669" y="286" width="7" height="6" fill="#ea0070"/>
<rect x="681" y="287" width="1" height="14" fill="#ea0070"/>
<rect x="678" y="292" width="7" height="7" fill="#ea0070"/>
<rect x="690" y="298" width="1" height="10" fill="#ea0070"/>
<rect x="687" y="298" width="7" height="8" fill="#ea0070"/>
<rect x="699" y="300" width="1" height="12" fill="#70a800"/>
<rect x="696" y="300" width="7" height="6" fill="#70a800"/>
<rect x="708" y="289" width="1" height="15" fill="#70a800"/>
<rect x="705" y="300" width="7" height="3" fill="#70a800"/>
<rect x="717" y="254" width="1" height="48" fill="#70a800"/>
<rect x="714" y="285" width="7" height="17" fill="#70a800"/>
<rect x="726" y="266" width="1" height="28" fill="#70a800"/>
<rect x="723" y="283" width="7" height="2" fill="#70a800"/>
<rect x="736" y="278" width="1" height="20" fill="#ea0070"/>
<rect x="733" y="282" width="7" height="14" fill="#ea0070"/>
<rect x="745" y="290" width="1" height="14" fill="#ea0070"/>
<rect x="742" y="297" width="7" height="6" fill="#ea0070"/>
<rect x="754" y="294" width="1" height="34" fill="#ea0070"/>
<rect x="751" y="301" width="7" height="25" fill="#ea0070"/>
<rect x="763" y="322" width="1" height="21" fill="#ea0070"/>
<rect x="760" y="325" width="7" height="13" fill="#ea0070"/>
<rect x="772" y="328" width="1" height="23" fill="#ea0070"/>
<rect x="769" y="337" width="7" height="14" fill="#ea0070"/>
<rect x="781" y="349" width="1" height="10" fill="#ea0070"/>
<rect x="778" y="350" width="7" height="9" fill="#ea0070"/>
<rect x="790" y="354" width="1" height="64" fill="#ea0070"/>
<rect x="787" y="356" width="7" height="60" fill="#ea0070"/>
<rect x="800" y="398" width="1" height="41" fill="#ea0070"/>
<rect x="797" y="415" width="7" height="4" fill="#ea0070"/>
<rect x="809" y="406" width="1" height="14" fill="#70a800"/>
<rect x="806" y="406" width="7" height="13" fill="#70a800"/>
<rect x="818" y="397" width="1" height="12" fill="#70a800"/>
<rect x="815" y="403" width="7" height="3" fill="#70a800"/>
<rect x="827" y="401" width="1" height="7" fill="#ea0070"/>
<rect x="824" y="401" width="7" height="5" fill="#ea0070"/>
<rect x="836" y="403" width="1" height="39" fill="#ea0070"/>
<rect x="833" y="404" width="7" height="38" fill="#ea0070"/>
<rect x="845" y="433" width="1" height="14" fill="#ea0070"/>
<rect x="842" y="441" width="7" height="3" fill="#ea0070"/>
<rect x="854" y="441" width="1" height="12" fill="#70a800"/>
<rect x="851" y="444" width="7" height="2" fill="#70a800"/>
<rect x="864" y="434" width="1" height="10" fill="#70a800"/>
<rect x="861" y="443" width="7" height="1" fill="#70a800"/>
<rect x="873" y="326" width="1" height="120" fill="#70a800"/>
<rect x="870" y="404" width="7" height="40" fill="#70a800"/>
</g>
<g stroke="#555" stroke-width="1" shape-rendering="crispEdges">
<path d="M924.5 77V475.5"/><path d="M303 475.5H925"/>
<path d="M925 98.5H928"/>
<path d="M925 148.5H928"/>
<path d="M925 198.5H928"/>
<path d="M925 249.5H928"/>
<path d="M925 299.5H928"/>
<path d="M925 349.5H928"/>
<path d="M925 399.5H928"/>
<path d="M925 450.5H928"/>
<path d="M371.5 476V479"/>
<path d="M462.5 476V479"/>
<path d="M554.5 476V479"/>
<path d="M645.5 476V479"/>
<path d="M737.5 476V479"/>
<path d="M828.5 476V479"/>
<path d="M910.5 476V479"/>
</g>
<rect x="925" y="397" width="63" height="16" fill="#70a800" shape-rendering="crispEdges"/>
</svg>
<span class="t" style="left:931.20px;top:94.20px;font-size:11px;line-height:11px;color:#555;font-weight:normal;">0.0017000</span>
<span class="t" style="left:931.20px;top:144.20px;font-size:11px;line-height:11px;color:#555;font-weight:normal;">0.0016000</span>
<span class="t" style="left:931.20px;top:194.20px;font-size:11px;line-height:11px;color:#555;font-weight:normal;">0.0015000</span>
<span class="t" style="left:931.20px;top:245.20px;font-size:11px;line-height:11px;color:#555;font-weight:normal;">0.0014000</span>
<span class="t" style="left:931.20px;top:295.20px;font-size:11px;line-height:11px;color:#555;font-weight:normal;">0.0013000</span>
<span class="t" style="left:931.20px;top:345.20px;font-size:11px;line-height:11px;color:#555;font-weight:normal;">0.0012000</span>
<span class="t" style="left:931.20px;top:395.20px;font-size:11px;line-height:11px;color:#555;font-weight:normal;">0.0011000</span>
<span class="t" style="left:931.20px;top:446.20px;font-size:11px;line-height:11px;color:#555;font-weight:normal;">0.0010000</span>
<div class="abs" style="left:925px;top:397px;width:63px;height:16px;background:#70a800"></div>
<span class="t" style="left:931.20px;top:400.00px;font-size:11px;line-height:11px;color:#fff;font-weight:bold;">0.0010917</span>
<span class="t" style="left:351px;width:40px;text-align:center;top:480.8px;font-size:11px;line-height:11px;color:#555;font-weight:bold">Jun</span>
<span class="t" style="left:442px;width:40px;text-align:center;top:480.8px;font-size:11px;line-height:11px;color:#555;font-weight:normal">6</span>
<span class="t" style="left:534px;width:40px;text-align:center;top:480.8px;font-size:11px;line-height:11px;color:#555;font-weight:normal">11</span>
<span class="t" style="left:625px;width:40px;text-align:center;top:480.8px;font-size:11px;line-height:11px;color:#555;font-weight:normal">16</span>
<span class="t" style="left:717px;width:40px;text-align:center;top:480.8px;font-size:11px;line-height:11px;color:#555;font-weight:normal">21</span>
<span class="t" style="left:808px;width:40px;text-align:center;top:480.8px;font-size:11px;line-height:11px;color:#555;font-weight:normal">26</span>
<span class="t" style="left:890px;width:40px;text-align:center;top:480.8px;font-size:11px;line-height:11px;color:#555;font-weight:normal">30</span>
<svg class="abs" style="left:307px;top:89px" width="15" height="15" viewBox="307 89 15 15"><rect x="308.9" y="90.6" width="11.4" height="11.5" rx="1.6" fill="none" stroke="#666" stroke-width="1.2"/><path d="M310.3 96.5H318.9" stroke="#666" stroke-width="1.2"/></svg>
<span class="t" style="left:327.50px;top:90.30px;font-size:17px;line-height:17px;color:#5f5f5f;font-weight:normal;">LUNBTC, 720</span>
<svg class="abs" style="left:437px;top:95px" width="8" height="5" viewBox="0 0 8 5"><path d="M0.4 0.5h7L3.9 4.4z" fill="#ccc"/></svg>
<svg class="abs" style="left:454.0px;top:91.0px" width="16" height="16" viewBox="-1 -1 16 16"><rect x="-1" y="-1" width="16" height="16" fill="#fff" fill-opacity="0.6"/><rect width="14" height="14" fill="#d6d6d6"/><path d="M1.6 7C3.2 4.2 5 3 7 3s3.8 1.2 5.4 4C10.8 9.8 9 11 7 11S3.2 9.8 1.6 7z" fill="#fff"/><circle cx="7" cy="7" r="2.6" fill="#d6d6d6"/><circle cx="7" cy="7" r="1.2" fill="#fff"/></svg>
<svg class="abs" style="left:471.0px;top:91.0px" width="16" height="16" viewBox="-1 -1 16 16"><rect x="-1" y="-1" width="16" height="16" fill="#fff" fill-opacity="0.6"/><rect width="14" height="14" fill="#d6d6d6"/><circle cx="7" cy="7" r="3.7" fill="#fff"/><path d="M7 1.7V12.3M1.7 7H12.3M3.25 3.25L10.75 10.75M3.25 10.75L10.75 3.25" stroke="#fff" stroke-width="2.3"/><circle cx="7" cy="7" r="1.8" fill="#d6d6d6"/></svg>
<span class="t" style="left:494.00px;top:93.40px;font-size:12px;line-height:12px;color:#606060;font-weight:normal;">O</span>
<span class="t" style="left:506.80px;top:93.40px;font-size:12px;line-height:12px;color:#70a800;font-weight:normal;letter-spacing:0.27px;">0.0010135</span>
<span class="t" style="left:572.30px;top:93.40px;font-size:12px;line-height:12px;color:#606060;font-weight:normal;">H</span>
<span class="t" style="left:584.00px;top:93.40px;font-size:12px;line-height:12px;color:#70a800;font-weight:normal;letter-spacing:0.27px;">0.0012450</span>
<span class="t" style="left:650.30px;top:93.40px;font-size:12px;line-height:12px;color:#606060;font-weight:normal;">L</span>
<span class="t" style="left:658.80px;top:93.40px;font-size:12px;line-height:12px;color:#70a800;font-weight:normal;letter-spacing:0.27px;">0.0010064</span>
<span class="t" style="left:724.00px;top:93.40px;font-size:12px;line-height:12px;color:#606060;font-weight:normal;">C</span>
<span class="t" style="left:734.50px;top:93.40px;font-size:12px;line-height:12px;color:#70a800;font-weight:normal;letter-spacing:0.27px;">0.0010917</span>
<span class="t" style="left:307.60px;top:112.50px;font-size:13px;line-height:13px;color:#555;font-weight:normal;">Volume (20)</span>
<svg class="abs" style="left:382px;top:116px" width="8" height="5" viewBox="0 0 8 5"><path d="M0.4 0.5h7L3.9 4.4z" fill="#ccc"/></svg>
<svg class="abs" style="left:399.0px;top:112.0px" width="16" height="16" viewBox="-1 -1 16 16"><rect x="-1" y="-1" width="16" height="16" fill="#fff" fill-opacity="0.6"/><rect width="14" height="14" fill="#d6d6d6"/><path d="M1.6 7C3.2 4.2 5 3 7 3s3.8 1.2 5.4 4C10.8 9.8 9 11 7 11S3.2 9.8 1.6 7z" fill="#fff"/><circle cx="7" cy="7" r="2.6" fill="#d6d6d6"/><circle cx="7" cy="7" r="1.2" fill="#fff"/></svg>
<svg class="abs" style="left:416.0px;top:112.0px" width="16" height="16" viewBox="-1 -1 16 16"><rect x="-1" y="-1" width="16" height="16" fill="#fff" fill-opacity="0.6"/><rect width="14" height="14" fill="#d6d6d6"/><circle cx="7" cy="7" r="3.7" fill="#fff"/><path d="M7 1.7V12.3M1.7 7H12.3M3.25 3.25L10.75 10.75M3.25 10.75L10.75 3.25" stroke="#fff" stroke-width="2.3"/><circle cx="7" cy="7" r="1.8" fill="#d6d6d6"/></svg>
<svg class="abs" style="left:433.0px;top:112.0px" width="16" height="16" viewBox="-1 -1 16 16"><rect x="-1" y="-1" width="16" height="16" fill="#fff" fill-opacity="0.6"/><rect width="14" height="14" fill="#d6d6d6"/><path d="M2.4 2.2L11.6 11.8M11.6 2.2L2.4 11.8" stroke="#fff" stroke-width="1.9"/></svg>
<span class="t" style="left:455.80px;top:114.20px;font-size:12px;line-height:12px;color:#70a800;font-weight:normal;letter-spacing:0.27px;">237.102K</span>
<span class="t" style="left:515.30px;top:114.20px;font-size:12px;line-height:12px;color:#f0b90b;font-weight:normal;letter-spacing:0.27px;">148.318K</span>
<svg class="abs" style="left:314px;top:441px" width="30" height="21" viewBox="314 441 30 21"><path d="M321.2 457.8a3.9 3.9 0 0 1-0.6-7.75A6.6 6.6 0 0 1 333.4 449.2 4.5 4.5 0 0 1 335.9 457.8z" fill="#3ba9e2" stroke="#fff" stroke-opacity="0.75" stroke-width="1.6" paint-order="stroke"/><path d="M319.3 454.8L325 449.2l5.5 6.3 5.3-5.9 2.6 2.4" fill="none" stroke="#f3f8e6" stroke-width="1.1" stroke-linejoin="round"/></svg>
<span class="t" style="left:346.60px;top:445.60px;font-size:14px;line-height:14px;color:#3ba9e2;font-weight:normal;letter-spacing:0.08px;text-shadow:0 0 2px #fff,0 0 2px #fff,0 0 3px #fff;">charts by TradingView</span>
<div class="abs" style="left:999px;top:84px;width:10px;height:316px;border:1px solid #e8e8e8;"></div>
<div class="abs" style="left:999px;top:435px;width:10px;height:100px;border:1px solid #e8e8e8;"></div>
<div class="abs" style="left:1000px;top:417px;width:2px;height:2px;background:#333;"></div>
</body></html>
